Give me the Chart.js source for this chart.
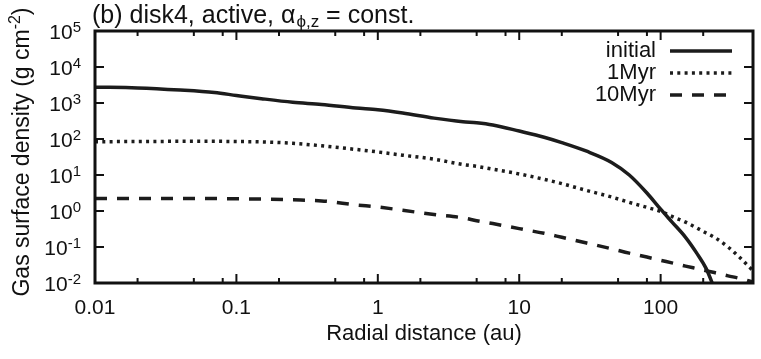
<!DOCTYPE html>
<html>
<head>
<meta charset="utf-8">
<script src="https://cdn.jsdelivr.net/npm/chart.js@4/dist/chart.umd.min.js"></script>
<style>
  body { margin: 0; background: #fff; }
  #wrap { width: 761px; height: 359px; }
</style>
</head>
<body>
<div id="wrap"><canvas id="c" width="761" height="359"></canvas></div>
<script>
// --- Data ---
const radius = [0.01, 0.02, 0.04, 0.07, 0.1, 0.15, 0.25, 0.4, 0.7, 1, 1.5, 2.5, 4, 5, 6.5, 10, 15, 20, 30, 45, 60, 80, 100, 120, 150, 180, 210, 240, 300, 360, 450];
const sigmaInitial = [2750, 2630, 2290, 1950, 1620, 1320, 1050, 912, 724, 646, 525, 380, 302, 282, 245, 166, 112, 79.4, 45.7, 22.4, 10.0, 3.16, 1.12, 0.50, 0.186, 0.0676, 0.0251, 0.0071, 0.001, 0.00016, 0.00001];
const sigma1Myr = [84.1, 85.1, 86.1, 86.1, 85.1, 83.2, 75.9, 64.6, 51.3, 43.7, 35.5, 27.5, 19.5, 17.4, 14.5, 10.7, 7.59, 5.75, 3.72, 2.45, 1.74, 1.26, 0.977, 0.708, 0.490, 0.339, 0.245, 0.186, 0.100, 0.0525, 0.0219];
const sigma10Myr = [2.24, 2.24, 2.24, 2.21, 2.19, 2.14, 2.04, 1.91, 1.48, 1.29, 1.05, 0.794, 0.646, 0.537, 0.447, 0.324, 0.240, 0.186, 0.129, 0.0891, 0.0676, 0.0525, 0.0427, 0.0363, 0.0295, 0.0251, 0.0219, 0.0195, 0.0158, 0.0135, 0.0107];
const seriesNames = ['initial', '1Myr', '10Myr'];

const xTickValues = [0.01, 0.1, 1, 10, 100];
const xTickLabels = ['0.01', '0.1', '1', '10', '100'];
const xMinorTicks = [0.02, 0.05, 0.08, 0.2, 0.5, 0.8, 2, 5, 8, 20, 50, 80, 200];
const yTickExponents = [-2, -1, 0, 1, 2, 3, 4, 5];

const FONT = '"Liberation Sans", Arial, sans-serif';
const INK = '#111';
const LINE = '#1c1c1c';

function toPoints(ys) {
    return radius.map((r, i) => ({ x: r, y: ys[i] }));
}

function seg(ctx, x1, y1, x2, y2) {
    ctx.beginPath();
    ctx.moveTo(x1, y1);
    ctx.lineTo(x2, y2);
    ctx.stroke();
}

// frame, ticks, labels, legend -- drawn like gnuplot does it
const framePlugin = {
    id: 'frame',
    afterDraw(chart) {
        const ctx = chart.ctx;
        const a = chart.chartArea;
        const xs = chart.scales.x, ys = chart.scales.y;
        ctx.save();
        ctx.strokeStyle = INK;
        ctx.fillStyle = INK;

        // ticks (inward, mirrored)
        ctx.lineWidth = 2;
        xTickValues.forEach(v => {
            const px = xs.getPixelForValue(v);
            seg(ctx, px, a.bottom, px, a.bottom - 9);
            seg(ctx, px, a.top, px, a.top + 9);
        });
        xMinorTicks.forEach(v => {
            const px = xs.getPixelForValue(v);
            seg(ctx, px, a.bottom, px, a.bottom - 5);
            seg(ctx, px, a.top, px, a.top + 5);
        });
        yTickExponents.forEach(e => {
            const py = ys.getPixelForValue(Math.pow(10, e));
            seg(ctx, a.left, py, a.left + 9, py);
            seg(ctx, a.right, py, a.right - 9, py);
        });

        ctx.lineWidth = 3;
        ctx.strokeRect(a.left, a.top, a.right - a.left, a.bottom - a.top);

        // x tick labels
        ctx.font = `21px ${FONT}`;
        ctx.textAlign = 'center';
        ctx.textBaseline = 'alphabetic';
        xTickValues.forEach((v, i) => {
            ctx.fillText(xTickLabels[i], xs.getPixelForValue(v), a.bottom + 31);
        });

        // y tick labels 10^n
        yTickExponents.forEach(e => {
            const py = ys.getPixelForValue(Math.pow(10, e));
            const exp = e < 0 ? '-' + (-e) : String(e);
            ctx.font = `15px ${FONT}`;
            ctx.textAlign = 'right';
            const ew = ctx.measureText(exp).width;
            ctx.fillText(exp, 81, py + 1);
            ctx.font = `21px ${FONT}`;
            ctx.fillText('10', 81 - ew, py + 8);
        });

        // x title
        ctx.font = `22px ${FONT}`;
        ctx.textAlign = 'center';
        ctx.fillText('Radial distance (au)', (a.left + a.right) / 2, 340);

        // y title (rotated, with superscript)
        ctx.save();
        ctx.translate(29, 152);
        ctx.rotate(-Math.PI / 2);
        const p1 = 'Gas surface density (g cm', sup = '-2', p2 = ')';
        ctx.font = `23px ${FONT}`;
        const w1 = ctx.measureText(p1).width, w3 = ctx.measureText(p2).width;
        ctx.font = `16px ${FONT}`;
        const w2 = ctx.measureText(sup).width;
        let x0 = -(w1 + w2 + w3) / 2;
        ctx.textAlign = 'left';
        ctx.font = `23px ${FONT}`;
        ctx.fillText(p1, x0, 0);
        ctx.font = `16px ${FONT}`;
        ctx.fillText(sup, x0 + w1, -9);
        ctx.font = `23px ${FONT}`;
        ctx.fillText(p2, x0 + w1 + w2, 0);
        ctx.restore();

        // title
        ctx.textAlign = 'left';
        let tx = 92;
        ctx.font = `25px ${FONT}`;
        const t1 = '(b) disk4, active, α';
        ctx.fillText(t1, tx, 23);
        tx += ctx.measureText(t1).width + 1;
        ctx.font = `17px ${FONT}`;
        const t2 = 'ϕ,z';
        ctx.fillText(t2, tx, 27);
        tx += ctx.measureText(t2).width;
        ctx.font = `25px ${FONT}`;
        ctx.fillText(' = const.', tx, 23);

        // legend
        chart.data.datasets.forEach((ds, i) => {
            const ly = 51 + 22 * i;
            ctx.font = `22px ${FONT}`;
            ctx.textAlign = 'right';
            ctx.textBaseline = 'middle';
            ctx.fillText(ds.label, 656, ly);
            ctx.strokeStyle = ds.borderColor;
            ctx.lineWidth = ds.borderWidth;
            ctx.setLineDash(ds.borderDash || []);
            seg(ctx, 670, ly, 732, ly);
            ctx.setLineDash([]);
        });

        ctx.restore();
    }
};

const baseDs = {
    borderColor: LINE,
    borderWidth: 3.5,
    pointRadius: 0,
    fill: false,
    cubicInterpolationMode: 'monotone',
    borderCapStyle: 'butt',
    clip: 0
};

new Chart(document.getElementById('c'), {
    type: 'line',
    data: {
        datasets: [
            Object.assign({}, baseDs, { label: seriesNames[0], data: toPoints(sigmaInitial) }),
            Object.assign({}, baseDs, { label: seriesNames[1], data: toPoints(sigma1Myr), borderDash: [3, 4.3] }),
            Object.assign({}, baseDs, { label: seriesNames[2], data: toPoints(sigma10Myr), borderDash: [12, 10] })
        ]
    },
    options: {
        responsive: false,
        animation: false,
        devicePixelRatio: 1,
        layout: { padding: { left: 95, right: 8, top: 31, bottom: 76 } },
        scales: {
            x: { type: 'logarithmic', min: 0.01, max: 450, display: false },
            y: { type: 'logarithmic', min: 0.01, max: 100000, display: false }
        },
        plugins: {
            legend: { display: false },
            title: { display: false },
            tooltip: { enabled: false }
        }
    },
    plugins: [framePlugin]
});
</script>
</body>
</html>
